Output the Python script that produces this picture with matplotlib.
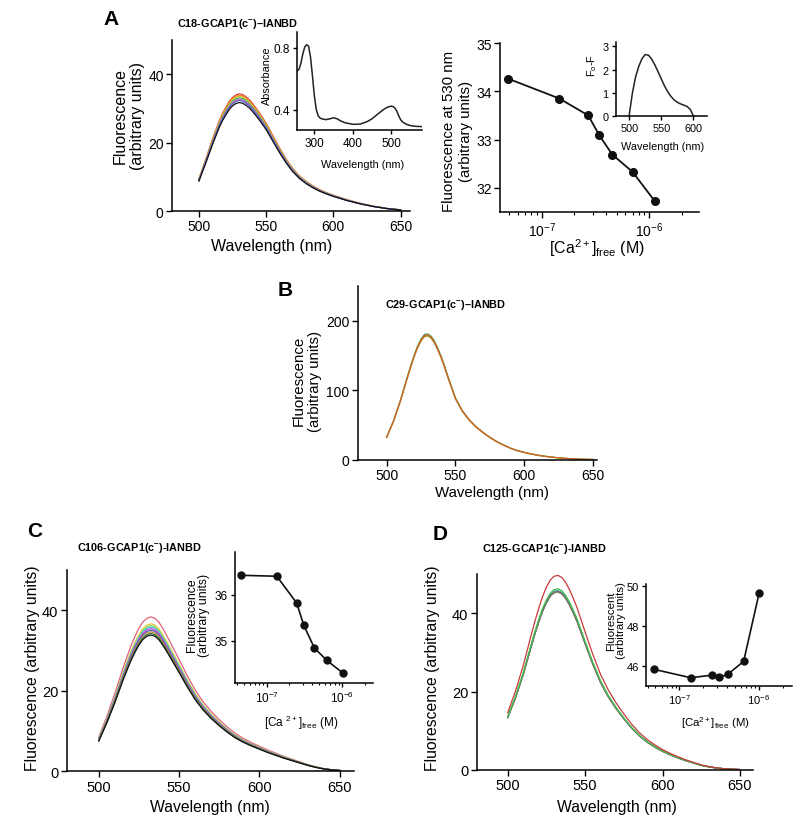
import numpy as np
import matplotlib
matplotlib.use("Agg")
import matplotlib.pyplot as plt
from matplotlib.ticker import LogLocator, NullFormatter, FixedLocator, FixedFormatter

plt.rcParams['font.family'] = ['Liberation Sans', 'DejaVu Sans']
plt.rcParams['mathtext.fontset'] = 'custom'
plt.rcParams['mathtext.rm'] = 'Liberation Sans'
plt.rcParams['mathtext.it'] = 'Liberation Sans:italic'
plt.rcParams['mathtext.bf'] = 'Liberation Sans:bold'

# ---------------- data ----------------
wl = [500, 505, 510, 515, 517.5, 520, 522.5, 525, 527.5, 530, 532.5, 535, 537.5, 540, 542.5, 545,
      550, 555, 560, 565, 570, 575, 580, 585, 590, 595, 600, 605, 610, 615, 620, 625, 630, 635,
      640, 645, 650]

# Panel A: emission spectrum shape (lowest trace) and value at 530 nm of each titration point
a_shape = [8.8, 14.0, 19.5, 24.5, 26.6, 28.3, 29.9, 31.0, 31.7, 32.0, 31.8, 31.2, 30.4, 29.3,
           28.1, 26.8, 24.0, 20.6, 17.2, 14.1, 11.5, 9.5, 8.0, 6.8, 5.8, 5.0, 4.3, 3.7, 3.1, 2.6,
           2.1, 1.7, 1.3, 1.0, 0.7, 0.5, 0.3]
a_ca = [4.9e-8, 1.46e-7, 2.71e-7, 3.43e-7, 4.53e-7, 7.0e-7, 1.13e-6]
a_f530 = [34.26, 33.85, 33.50, 33.09, 32.69, 32.33, 31.72]
a_colors = ['#e23b3b', '#f08a24', '#c8c832', '#4cb84c', '#d45ad4', '#4a62c8', '#111111']

abs_wl = [255, 260, 265, 270, 275, 280, 285, 290, 295, 300, 305, 310, 315, 320, 330, 340, 350, 360,
          370, 380, 390, 400, 410, 420, 430, 440, 450, 460, 470, 480, 490, 500, 505, 510, 515, 520,
          525, 530, 540, 550, 560, 570, 580]
abs_val = [0.65, 0.66, 0.70, 0.76, 0.805, 0.82, 0.81, 0.74, 0.62, 0.49, 0.40, 0.36, 0.345, 0.34,
           0.335, 0.34, 0.347, 0.34, 0.325, 0.315, 0.31, 0.305, 0.305, 0.307, 0.315, 0.325, 0.34,
           0.36, 0.38, 0.40, 0.415, 0.422, 0.42, 0.41, 0.39, 0.36, 0.335, 0.32, 0.305, 0.297, 0.293,
           0.291, 0.29]

diff_wl = [500, 505, 510, 515, 520, 525, 530, 535, 540, 545, 550, 555, 560, 565, 570, 575, 580,
           585, 590, 595, 600]
diff_val = [0.05, 1.0, 1.7, 2.15, 2.48, 2.65, 2.62, 2.45, 2.2, 1.9, 1.6, 1.3, 1.05, 0.85, 0.7,
            0.6, 0.53, 0.48, 0.42, 0.3, 0.0]

# Panel B
b_shape = [32, 55, 84, 117, 133, 148, 161, 171, 177.5, 178.5, 175, 167.5, 157, 145, 131, 116,
           88, 70, 57, 47, 39, 32, 26, 21, 16.5, 13, 10.5, 8.2, 6.4, 4.9, 3.7, 2.7, 1.9, 1.3,
           0.8, 0.5, 0.3]
b_peaks = [181, 178, 179.5]
b_colors = ['#3a9a3a', '#a8a028', '#d0602a']

# Panel C
c_shape = [7.5, 12.0, 17.0, 22.5, 25.0, 27.4, 29.5, 31.3, 32.7, 33.5, 33.8, 33.5, 32.6, 31.2,
           29.6, 27.9, 24.5, 21.0, 17.8, 15.2, 13.1, 11.3, 9.7, 8.3, 7.2, 6.3, 5.5, 4.7, 4.0, 3.3,
           2.7, 2.1, 1.5, 1.0, 0.6, 0.35, 0.2]
c_peaks = [38.3, 36.6, 36.2, 35.8, 35.4, 35.0, 34.6, 34.2, 33.8]
c_colors = ['#e0607a', '#e8cf3a', '#8fd86a', '#3fc4d6', '#d24ac4', '#4a58c6', '#d08a3a',
            '#2f7a3a', '#111111']
c_ca = [4.6e-8, 1.36e-7, 2.5e-7, 3.1e-7, 4.3e-7, 6.3e-7, 1.02e-6]
c_f = [36.42, 36.40, 35.82, 35.34, 34.84, 34.57, 34.30]

# Panel D
d_shape = [13.5, 18.5, 24.5, 31.5, 34.9, 38.0, 40.8, 43.0, 44.7, 45.6, 45.8, 45.3, 44.1, 42.4,
           40.3, 38.0, 32.5, 27.2, 22.5, 18.8, 15.8, 13.2, 10.8, 8.8, 7.2, 5.9, 4.8, 3.9, 3.1,
           2.4, 1.8, 1.2, 0.8, 0.5, 0.3, 0.2, 0.1]
d_ca = [4.8e-8, 1.39e-7, 2.58e-7, 3.16e-7, 4.07e-7, 6.45e-7, 1.01e-6]
d_f = [45.82, 45.40, 45.53, 45.42, 45.57, 46.22, 49.64]
d_colors = ['#4fb8c0', '#5058c8', '#b858b8', '#98983a', '#707070', '#3cc04a', '#c83a3a']

# ---------------- figure ----------------
W, H = 800, 828
fig = plt.figure(figsize=(8, 8.28), dpi=100)


def add_ax(l, t, r, b):
    ax = fig.add_axes([l / W, 1 - b / H, (r - l) / W, (b - t) / H])
    ax.set_facecolor('none')
    for s in ['top', 'right']:
        ax.spines[s].set_visible(False)
    for s in ['left', 'bottom']:
        ax.spines[s].set_linewidth(1.1)
    return ax


def ftext(x, y, s, **kw):
    kw.setdefault('ha', 'center')
    kw.setdefault('va', 'center')
    fig.text(x / W, 1 - y / H, s, **kw)


def ticks(ax, fs, length=4):
    ax.tick_params(which='major', direction='out', length=length, width=1.0, labelsize=fs, pad=2)
    ax.tick_params(which='minor', direction='out', length=length * 0.6, width=0.8)


def logx(ax, fs):
    ax.set_xscale('log')
    ax.xaxis.set_major_locator(FixedLocator([1e-7, 1e-6]))
    ax.xaxis.set_major_formatter(FixedFormatter([r'$10^{-7}$', r'$10^{-6}$']))
    ax.xaxis.set_minor_locator(LogLocator(base=10, subs=np.arange(2, 10), numticks=30))
    ax.xaxis.set_minor_formatter(NullFormatter())


def spectra(ax, shape, peaks, colors, lw=0.9):
    shape = np.asarray(shape, dtype=float)
    for pk, col in zip(peaks, colors):
        ax.plot(wl, shape / shape.max() * pk, color=col, lw=lw)


# ---- Panel A main ----
axA = add_ax(172, 41, 410, 212)
spectra(axA, a_shape, a_f530, a_colors)
axA.set_xlim(480, 657)
axA.set_ylim(0, 50)
axA.set_xticks([500, 550, 600, 650])
axA.set_yticks([0, 20, 40])
ticks(axA, 10)
ftext(129, 116, 'Fluorescence\n(arbitrary units)', rotation=90, fontsize=11.5, linespacing=1.15)
ftext(272, 246, 'Wavelength (nm)', fontsize=11.5)

# ---- Panel A absorbance inset ----
axAi = add_ax(296.7, 33.3, 421.7, 131)
axAi.plot(abs_wl, abs_val, color='#222222', lw=1.1)
axAi.set_xlim(254, 580)
axAi.set_ylim(0.268, 0.9)
axAi.set_xticks([300, 400, 500])
axAi.set_yticks([0.4, 0.8])
axAi.set_yticklabels(['0.4', '0.8'])
ticks(axAi, 8.5, length=3)
ftext(267, 76, 'Absorbance', rotation=90, fontsize=7.8)
ftext(363, 165, 'Wavelength (nm)', fontsize=7.8)

# ---- Panel A right (titration) ----
axR = add_ax(500, 44, 699, 213)
axR.plot(a_ca, a_f530, color='#111111', lw=1.3, marker='o', ms=5.5)
logx(axR, 10)
axR.set_xlim(4.1e-8, 2.9e-6)
axR.set_ylim(31.5, 35)
axR.set_yticks([32, 33, 34, 35])
ticks(axR, 10)
ftext(457.5, 131, 'Fluorescence at 530 nm\n(arbitrary units)', rotation=90, fontsize=10.8,
      linespacing=1.25)
ftext(597, 248, r'[Ca$^{2+}$]$_{\mathrm{free}}$ (M)', fontsize=11.5)

# ---- Panel A right inset (Fo-F) ----
axRi = add_ax(615.7, 42.7, 707, 117.3)
axRi.plot(diff_wl, diff_val, color='#222222', lw=1.1)
axRi.set_xlim(479, 621)
axRi.set_ylim(0, 3.2)
axRi.set_xticks([500, 550, 600])
axRi.set_yticks([0, 1, 2, 3])
ticks(axRi, 7.8, length=3)
ftext(592, 65, r'F$_{\mathrm{o}}$-F', rotation=90, fontsize=7.8)
ftext(663, 147.5, 'Wavelength (nm)', fontsize=7.8)

# ---- Panel B ----
axB = add_ax(357.7, 287, 597, 460.7)
spectra(axB, b_shape, b_peaks, b_colors)
axB.set_xlim(479, 653)
axB.set_ylim(0, 250)
axB.set_xticks([500, 550, 600, 650])
axB.set_yticks([0, 100, 200])
ticks(axB, 10)
ftext(307, 381, 'Fluorescence\n(arbitrary units)', rotation=90, fontsize=10.8, linespacing=1.15)
ftext(492, 493, 'Wavelength (nm)', fontsize=10.8)

# ---- Panel C ----
axC = add_ax(66.7, 570.7, 354, 772.3)
spectra(axC, c_shape, c_peaks, c_colors)
axC.set_xlim(480, 659)
axC.set_ylim(0, 50)
axC.set_xticks([500, 550, 600, 650])
axC.set_yticks([0, 20, 40])
ticks(axC, 10.5)
ftext(33, 668, 'Fluorescence (arbitrary units)', rotation=90, fontsize=11.3)
ftext(210, 808, 'Wavelength (nm)', fontsize=11.3)

axCi = add_ax(235, 553.3, 373.3, 684)
axCi.plot(c_ca, c_f, color='#111111', lw=1.2, marker='o', ms=5)
logx(axCi, 8)
axCi.set_xlim(3.8e-8, 2.6e-6)
axCi.set_ylim(34.08, 36.92)
axCi.set_yticks([35, 36])
ticks(axCi, 8.5, length=3)
ftext(198, 615, 'Fluorescence\n(arbitrary units)', rotation=90, fontsize=8.8, linespacing=0.95)
ftext(301, 723, r'[Ca $^{2+}$]$_{\mathrm{free}}$ (M)', fontsize=8.5)

# ---- Panel D ----
axD = add_ax(476.7, 575, 753.3, 771)
spectra(axD, d_shape, d_f, d_colors)
axD.set_xlim(480, 658.6)
axD.set_ylim(0, 50)
axD.set_xticks([500, 550, 600, 650])
axD.set_yticks([0, 20, 40])
ticks(axD, 10.5)
ftext(433, 668, 'Fluorescence (arbitrary units)', rotation=90, fontsize=11.3)
ftext(617, 808, 'Wavelength (nm)', fontsize=11.3)

axDi = add_ax(646, 585, 791.7, 686.7)
axDi.plot(d_ca, d_f, color='#111111', lw=1.2, marker='o', ms=5)
logx(axDi, 7.5)
axDi.set_xlim(3.8e-8, 2.6e-6)
axDi.set_ylim(45.0, 50.1)
axDi.set_yticks([46, 48, 50])
ticks(axDi, 8, length=3)
ftext(616, 621, 'Fluorescent\n(arbitrary units)', rotation=90, fontsize=8.2, linespacing=0.95)
ftext(715, 723, r'[Ca$^{2+}$]$_{\mathrm{free}}$ (M)', fontsize=8.2)

# ---- panel letters and titles ----
for x, y, s in [(111, 19.5, 'A'), (285, 290.5, 'B'), (34.7, 532, 'C'), (440, 535, 'D')]:
    ftext(x, y, s, fontsize=15, fontweight='bold')

for x, y, s in [(176.7, 24, 'C18-GCAP1(c$^{\\mathbf{-}}$)\u2013IANBD'),
                (385, 305.5, 'C29-GCAP1(c$^{\\mathbf{-}}$)\u2013IANBD'),
                (76.7, 548, 'C106-GCAP1(c$^{\\mathbf{-}}$)-IANBD'),
                (481.7, 549, 'C125-GCAP1(c$^{\\mathbf{-}}$)-IANBD')]:
    ftext(x, y, s, fontsize=7.8, fontweight='bold', ha='left')

fig.savefig('out.png', dpi=100)
